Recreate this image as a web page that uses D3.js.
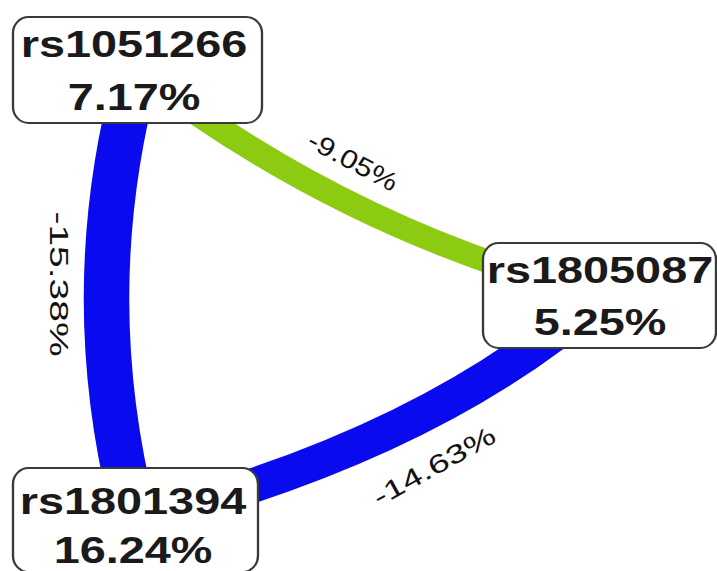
<!DOCTYPE html>
<html lang="en">
<head>
<meta charset="utf-8">
<script src="https://d3js.org/d3.v7.min.js"></script>
<style>
  body { margin: 0; background: #fff; }
  svg { display: block; }
</style>
</head>
<body>
<svg id="main" width="717" height="571"></svg>
<script>
// snps and their own information gain
const snps = ['rs1051266', 'rs1805087', 'rs1801394'];
const snpGain = [7.17, 5.25, 16.24];

// pairwise interactions (index into snps)
const edgeFrom = [0, 0, 2];
const edgeTo = [1, 2, 1];
const edgeGain = [-9.05, -15.38, -14.63];

// layout only
const boxes = [
    {x0: 13, y0: 17, x1: 262, y1: 123, tx: 134, b1: 57, b2: 110},
    {x0: 483, y0: 243, x1: 716, y1: 348, tx: 600, b1: 283, b2: 335},
    {x0: 13, y0: 468, x1: 258, y1: 572, tx: 133, b1: 514, b2: 563}
];
const bends = [[53, 0], [60, 0], [61, 40]];   // [perpendicular, along chord]
const labelPos = [
    {x: 353, y: 161, a: 28, len: 98},
    {x: 59, y: 284, a: 90, len: 145},
    {x: 434, y: 466, a: -29, len: 136}
];

const svg = d3.select('svg#main');
const sx = 1.3;   // picture is stretched sideways
const xs = d3.scaleLinear().domain([0, 717]).range([0, 717 / sx]);
const g = svg.append('g').attr('transform', 'scale(' + sx + ',1)');

const width = d3.scaleLinear().domain([9.05, 15.38]).range([22.5, 35]);
const color = d3.scaleThreshold().domain([-12]).range(['#0a0aee', '#8ccb12']);

const centre = i => ({x: (boxes[i].x0 + boxes[i].x1) / 2, y: (boxes[i].y0 + boxes[i].y1) / 2});

function ctrl(i) {
    let a = centre(edgeFrom[i]), b = centre(edgeTo[i]);
    let dx = b.x - a.x, dy = b.y - a.y, l = Math.hypot(dx, dy);
    let ux = dx / l, uy = dy / l;
    let [p, s] = bends[i];
    return {x: (a.x + b.x) / 2 - uy * p + ux * s, y: (a.y + b.y) / 2 + ux * p + uy * s};
}

g.selectAll('path.edge')
    .data(edgeGain)
    .enter().append('path')
    .attr('class', 'edge')
    .attr('d', (d, i) => {
        let a = centre(edgeFrom[i]), b = centre(edgeTo[i]), c = ctrl(i);
        let p = d3.path();
        p.moveTo(xs(a.x), a.y);
        p.quadraticCurveTo(xs(c.x), c.y, xs(b.x), b.y);
        return p.toString();
    })
    .attr('fill', 'none')
    .attr('stroke', d => color(d))
    .attr('stroke-width', d => width(Math.abs(d)));

let node = g.selectAll('g.node')
    .data(snps)
    .enter().append('g')
    .attr('class', 'node');

node.append('rect')
    .attr('x', (d, i) => xs(boxes[i].x0))
    .attr('y', (d, i) => boxes[i].y0)
    .attr('width', (d, i) => xs(boxes[i].x1) - xs(boxes[i].x0))
    .attr('height', (d, i) => boxes[i].y1 - boxes[i].y0)
    .attr('rx', 12).attr('ry', 16)
    .attr('fill', '#fff')
    .attr('stroke', '#3a3a3a')
    .attr('stroke-width', 1.8);

node.append('text')
    .attr('x', (d, i) => xs(boxes[i].tx))
    .attr('y', (d, i) => boxes[i].b1)
    .text(d => d);

node.append('text')
    .attr('x', (d, i) => xs(boxes[i].tx))
    .attr('y', (d, i) => boxes[i].b2)
    .text((d, i) => snpGain[i].toFixed(2) + '%');

node.selectAll('text')
    .attr('text-anchor', 'middle')
    .attr('font-family', '"Liberation Sans", Arial, sans-serif')
    .attr('font-weight', 'bold')
    .attr('font-size', 36)
    .attr('fill', '#1a1a1a');

svg.selectAll('text.elabel')
    .data(edgeGain)
    .enter().append('text')
    .attr('class', 'elabel')
    .attr('transform', (d, i) => 'translate(' + labelPos[i].x + ',' + labelPos[i].y + ') rotate(' + labelPos[i].a + ')')
    .attr('text-anchor', 'middle')
    .attr('dy', '0.35em')
    .attr('font-family', '"Liberation Sans", Arial, sans-serif')
    .attr('font-size', 26)
    .attr('fill', '#111')
    .attr('textLength', (d, i) => labelPos[i].len)
    .attr('lengthAdjust', 'spacingAndGlyphs')
    .text(d => d.toFixed(2) + '%');
</script>
</body>
</html>
